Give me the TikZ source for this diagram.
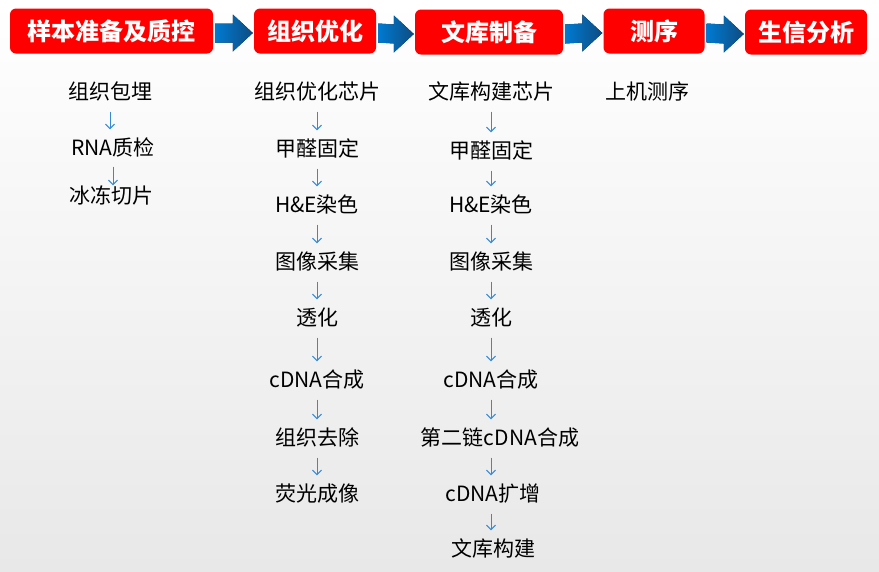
\documentclass[tikz,border=0pt]{standalone}
\usepackage{fontspec}
\setmainfont{Noto Sans CJK SC}
\usetikzlibrary{arrows.meta,calc}
\definecolor{boxred}{RGB}{255,0,0}
\definecolor{flowblue}{RGB}{52,138,216}
\definecolor{arrowlight}{RGB}{0,122,208}
\definecolor{arrowdark}{RGB}{14,76,130}
\definecolor{bgbottom}{RGB}{232,232,232}
\tikzset{
  head/.style={fill=boxred,rounded corners=6pt,minimum height=45pt,inner sep=0pt,
    text=white,font=\fontsize{24}{24}\selectfont\bfseries},
  stage/.style={inner sep=0pt,text height=18pt,text depth=3pt,
    font=\fontsize{21}{21}\selectfont},
  flow/.style={flowblue,line width=1pt,-{Straight Barb[length=4.5pt,width=9pt]},
    shorten <=9pt,shorten >=8pt},
  barrow/.style={left color=arrowlight,right color=arrowdark,draw=none}
}
\begin{document}
\begin{tikzpicture}[x=1pt,y=-1pt]
    \shade[top color=white,bottom color=bgbottom] (0,0) rectangle (879,571);
    \useasboundingbox (0,0) rectangle (879,571);

    % stage headers
    \node[head,minimum width=203pt] (h1) at (111.5,31) {样本准备及质控};
    \node[head,minimum width=122pt] (h2) at (315,31) {组织优化};
    \node[head,minimum width=148pt] (h3) at (489,32) {文库制备};
    \node[head,minimum width=101pt] (h4) at (654,31) {测序};
    \node[head,minimum width=122pt] (h5) at (806,32) {生信分析};

    \foreach \a/\b in {h1/h2,h2/h3,h3/h4,h4/h5}
      \fill[barrow] ($(\a.east)+(2,-7.5)$) -- ($(\b.west)+(-21,-7.5)$)
        -- ($(\b.west)+(-21,-16.5)$) -- ($(\b.west)+(-1,2)$)
        -- ($(\b.west)+(-21,20.5)$) -- ($(\b.west)+(-21,11.5)$)
        -- ($(\a.east)+(2,11.5)$) -- cycle;

    % sample preparation
    \node[stage] (s1) at (110,92) {组织包埋};
    \node[stage] (s2) at (113,148) {RNA质检};
    \node[stage] (s3) at (111,196) {冰冻切片};
    \draw[flow] (s1.south) -- (s1.south |- s2.north);
    \draw[flow,shorten >=0pt,shorten <=8pt] (s2.south) -- (s2.south |- s3.north);

    % tissue optimization
    \node[stage] (t1) at (317,92) {组织优化芯片};
    \node[stage] (t2) at (317,149) {甲醛固定};
    \node[stage] (t3) at (317,205) {H\&E染色};
    \node[stage] (t4) at (317,262) {图像采集};
    \node[stage] (t5) at (317,318) {透化};
    \node[stage] (t6) at (317,380) {cDNA合成};
    \node[stage] (t7) at (317,438) {组织去除};
    \node[stage] (t8) at (317,494) {荧光成像};
    \foreach \a/\b in {t1/t2,t2/t3,t3/t4,t4/t5,t5/t6,t6/t7,t7/t8}
      \draw[flow] (\a.south) -- (\a.south |- \b.north);

    % library preparation
    \node[stage] (l1) at (491,92) {文库构建芯片};
    \node[stage] (l2) at (491,151) {甲醛固定};
    \node[stage] (l3) at (491,205) {H\&E染色};
    \node[stage] (l4) at (491,262) {图像采集};
    \node[stage] (l5) at (491,318) {透化};
    \node[stage] (l6) at (491,380) {cDNA合成};
    \node[stage] (l7) at (500,438) {第二链cDNA合成};
    \node[stage] (l8) at (493,494) {cDNA扩增};
    \node[stage] (l9) at (493,549) {文库构建};
    \foreach \a/\b in {l1/l2,l2/l3,l3/l4,l4/l5,l5/l6,l6/l7,l7/l8,l8/l9}
      \draw[flow] (\a.south -| l1.south) -- (l1.south |- \b.north);

    % sequencing
    \node[stage] (q1) at (647,92) {上机测序};
\end{tikzpicture}
\end{document}
